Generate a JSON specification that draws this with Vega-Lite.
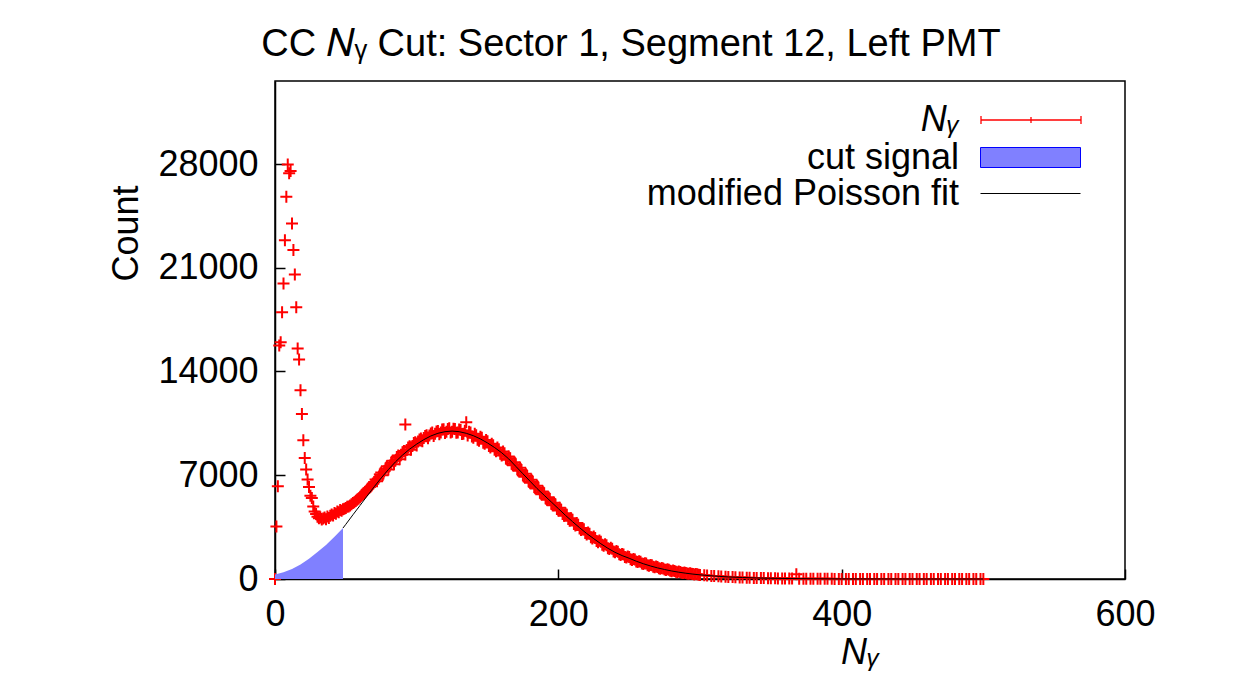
{
  "$schema": "https://vega.github.io/schema/vega-lite/v6.json",
  "width": 850,
  "height": 498,
  "autosize": {"type": "none"},
  "padding": {"left": 275, "top": 81, "right": 133, "bottom": 110},
  "background": "white",
  "title": {"text": "CC 𝑁ᵧ Cut: Sector 1, Segment 12, Left PMT", "frame": "group", "anchor": "middle", "dx": -69, "dy": 37, "offset": 24, "baseline": "alphabetic", "fontSize": 38, "font": "Liberation Sans", "fontWeight": "normal", "color": "#000000"},
  "config": {
    "view": {"stroke": "#000000", "strokeWidth": 1.5},
    "axis": {"labelFont": "Liberation Sans", "labelFontSize": 36, "labelColor": "#000000", "titleFont": "Liberation Sans", "titleFontSize": 36, "titleFontWeight": "normal", "titleColor": "#000000", "domainColor": "#000000", "domainWidth": 1.5, "tickColor": "#000000", "tickSize": -10, "tickWidth": 1.5, "grid": false, "labelFlush": false, "labelOverlap": false},
    "legend": {"labelFont": "Liberation Sans", "labelFontSize": 36, "labelColor": "#000000", "labelLimit": 700, "padding": 0, "orient": "none", "symbolSize": 2500, "symbolOffset": 25, "labelAlign": "right", "labelOffset": -97, "symbolOpacity": 1}
  },
  "datasets": {
    "pts": [
      {"x":0,"n":0},{"x":1,"n":3550},{"x":2,"n":6250},{"x":3,"n":15750},{"x":4,"n":15980},{"x":5,"n":18000},{"x":6,"n":19940},{"x":7,"n":22860},{"x":8,"n":25790},{"x":9,"n":27970},
      {"x":10,"n":27370},{"x":11,"n":27520},{"x":12,"n":23990},{"x":13,"n":22190},{"x":14,"n":20550},{"x":15,"n":18340},{"x":16,"n":15550},{"x":17,"n":14810},{"x":18,"n":12730},{"x":19,"n":11140},
      {"x":20,"n":9360},{"x":21,"n":8170},{"x":22,"n":7380},{"x":23,"n":6710},{"x":24,"n":6210},{"x":25,"n":5620},{"x":26,"n":5470},{"x":27,"n":4900},{"x":28,"n":4560},{"x":29,"n":4380},
      {"x":30,"n":4200},{"x":31,"n":4100},{"x":32,"n":4150},{"x":33,"n":4010},{"x":34,"n":4080},{"x":35,"n":4150},{"x":36,"n":4030},{"x":37,"n":4220},{"x":38,"n":4120},{"x":39,"n":4260},
      {"x":40,"n":4350},{"x":41,"n":4290},{"x":42,"n":4460},{"x":43,"n":4400},{"x":44,"n":4560},{"x":45,"n":4510},{"x":46,"n":4660},{"x":47,"n":4600},{"x":48,"n":4710},{"x":49,"n":4740},
      {"x":50,"n":4790},{"x":52,"n":4900},{"x":54,"n":5050},{"x":56,"n":5180},{"x":58,"n":5350},{"x":60,"n":5520},{"x":62,"n":5720},{"x":64,"n":5900},{"x":66,"n":6130},{"x":68,"n":6300},
      {"x":70,"n":6550},{"x":72,"n":6600},{"x":74,"n":7050},{"x":76,"n":7000},{"x":78,"n":7450},{"x":80,"n":7380},{"x":82,"n":7850},{"x":84,"n":7750},{"x":86,"n":8230},{"x":88,"n":8080},
      {"x":90,"n":8550},{"x":92,"n":8400},{"x":92,"n":10420},{"x":94,"n":8880},{"x":96,"n":8720},{"x":98,"n":9170},{"x":100,"n":9000},{"x":102,"n":9420},{"x":104,"n":9300},{"x":106,"n":9650},{"x":108,"n":9500},
      {"x":110,"n":9820},{"x":112,"n":9640},{"x":114,"n":9950},{"x":116,"n":9760},{"x":118,"n":10080},{"x":120,"n":9850},{"x":122,"n":10120},{"x":124,"n":9880},{"x":126,"n":10140},{"x":128,"n":9860},
      {"x":130,"n":10090},{"x":132,"n":9780},{"x":134,"n":10000},{"x":135,"n":10570},{"x":136,"n":9680},{"x":138,"n":9880},{"x":140,"n":9530},{"x":142,"n":9700},{"x":144,"n":9320},{"x":146,"n":9530},{"x":148,"n":9120},
      {"x":150,"n":9300},{"x":152,"n":8880},{"x":154,"n":9030},{"x":156,"n":8620},{"x":158,"n":8760},{"x":160,"n":8340},{"x":162,"n":8480},{"x":164,"n":8040},{"x":166,"n":8150},{"x":168,"n":7680},
      {"x":170,"n":7750},{"x":172,"n":7300},{"x":174,"n":7350},{"x":176,"n":6900},{"x":178,"n":6950},{"x":180,"n":6500},{"x":182,"n":6560},{"x":184,"n":6110},{"x":186,"n":6160},{"x":188,"n":5720},
      {"x":190,"n":5780},{"x":192,"n":5340},{"x":194,"n":5400},{"x":196,"n":4980},{"x":198,"n":5030},{"x":200,"n":4620},{"x":202,"n":4680},{"x":204,"n":4270},{"x":206,"n":4330},{"x":208,"n":3930},
      {"x":210,"n":3990},{"x":212,"n":3610},{"x":214,"n":3660},{"x":216,"n":3300},{"x":218,"n":3350},{"x":220,"n":3010},{"x":222,"n":3050},{"x":224,"n":2740},{"x":226,"n":2770},{"x":228,"n":2480},
      {"x":230,"n":2510},{"x":232,"n":2240},{"x":234,"n":2270},{"x":236,"n":2020},{"x":238,"n":2040},{"x":240,"n":1810},{"x":242,"n":1840},{"x":244,"n":1620},{"x":246,"n":1650},{"x":248,"n":1450},
      {"x":250,"n":1480},{"x":252,"n":1290},{"x":254,"n":1320},{"x":256,"n":1150},{"x":258,"n":1170},{"x":260,"n":1020},{"x":262,"n":1040},{"x":264,"n":900},{"x":266,"n":920},{"x":268,"n":790},
      {"x":270,"n":810},{"x":272,"n":700},{"x":274,"n":710},{"x":276,"n":610},{"x":278,"n":620},{"x":280,"n":530},{"x":282,"n":540},{"x":284,"n":460},{"x":286,"n":470},{"x":288,"n":400},
      {"x":290,"n":410},{"x":292,"n":350},{"x":294,"n":360},{"x":296,"n":310},{"x":298,"n":320},{"x":300,"n":270},{"x":305,"n":240},{"x":310,"n":200},{"x":315,"n":175},{"x":320,"n":140},
      {"x":325,"n":120},{"x":330,"n":100},{"x":335,"n":85},{"x":340,"n":70},{"x":345,"n":60},{"x":350,"n":50},{"x":355,"n":42},{"x":360,"n":35},{"x":365,"n":28},{"x":368,"n":320},
      {"x":370,"n":22},{"x":375,"n":18},{"x":380,"n":15},{"x":385,"n":12},{"x":390,"n":10},{"x":395,"n":8},{"x":400,"n":7},{"x":405,"n":5},{"x":410,"n":4},{"x":415,"n":3},
      {"x":420,"n":3},{"x":425,"n":2},{"x":430,"n":2},{"x":435,"n":1},{"x":440,"n":1},{"x":445,"n":1},{"x":450,"n":1},{"x":455,"n":0},{"x":460,"n":0},{"x":465,"n":0},
      {"x":470,"n":0},{"x":475,"n":0},{"x":480,"n":0},{"x":485,"n":0},{"x":490,"n":0},{"x":495,"n":0},{"x":500,"n":0},
      {"x":51,"n":4870},{"x":53,"n":4960},{"x":55,"n":5130},{"x":57,"n":5260},{"x":59,"n":5420},{"x":61,"n":5640},{"x":63,"n":5800},{"x":65,"n":6020},{"x":67,"n":6200},{"x":69,"n":6430},
      {"x":71,"n":6720},{"x":73,"n":6780},{"x":75,"n":7180},{"x":77,"n":7250},{"x":79,"n":7600},{"x":81,"n":7640},{"x":83,"n":7980},{"x":85,"n":8000},{"x":87,"n":8330},{"x":89,"n":8390},
      {"x":91,"n":8640},{"x":93,"n":8700},{"x":95,"n":8950},{"x":97,"n":8980},{"x":99,"n":9230},{"x":101,"n":9270},{"x":103,"n":9480},{"x":105,"n":9520},{"x":107,"n":9700},{"x":109,"n":9690},
      {"x":111,"n":9880},{"x":113,"n":9800},{"x":115,"n":9990},{"x":117,"n":9880},{"x":119,"n":10110},{"x":121,"n":9940},{"x":123,"n":10170},{"x":125,"n":9930},{"x":127,"n":10120},{"x":129,"n":9880},
      {"x":131,"n":10060},{"x":133,"n":9800},{"x":137,"n":9930},{"x":139,"n":9620},{"x":141,"n":9800},{"x":143,"n":9400},{"x":145,"n":9600},{"x":147,"n":9200},{"x":149,"n":9380},{"x":151,"n":8980},
      {"x":153,"n":9120},{"x":155,"n":8720},{"x":157,"n":8880},{"x":159,"n":8450},{"x":161,"n":8600},{"x":163,"n":8130},{"x":165,"n":8260},{"x":167,"n":7780},{"x":169,"n":7880},{"x":171,"n":7400},
      {"x":173,"n":7500},{"x":175,"n":7000},{"x":177,"n":7100},{"x":179,"n":6600},{"x":181,"n":6700},{"x":183,"n":6200},{"x":185,"n":6300},{"x":187,"n":5820},{"x":189,"n":5900},{"x":191,"n":5450},
      {"x":193,"n":5520},{"x":195,"n":5080},{"x":197,"n":5150},{"x":199,"n":4720},{"x":201,"n":4800},{"x":203,"n":4380},{"x":205,"n":4440},{"x":207,"n":4040},{"x":209,"n":4100},{"x":211,"n":3710},
      {"x":213,"n":3770},{"x":215,"n":3400},{"x":217,"n":3440},{"x":219,"n":3100},{"x":221,"n":3140},{"x":223,"n":2820},{"x":225,"n":2860},{"x":227,"n":2560},{"x":229,"n":2590},{"x":231,"n":2310},
      {"x":233,"n":2340},{"x":235,"n":2080},{"x":237,"n":2110},{"x":239,"n":1860},{"x":241,"n":1890},{"x":243,"n":1670},{"x":245,"n":1690},{"x":247,"n":1490},{"x":249,"n":1510},{"x":251,"n":1330},
      {"x":253,"n":1350},{"x":255,"n":1180},{"x":257,"n":1200},{"x":259,"n":1050},{"x":261,"n":1070},{"x":263,"n":930},{"x":265,"n":950},{"x":267,"n":820},{"x":269,"n":840},{"x":271,"n":720},
      {"x":273,"n":740},{"x":275,"n":640},{"x":277,"n":650},{"x":279,"n":560},{"x":281,"n":570},{"x":283,"n":490},{"x":285,"n":500},{"x":287,"n":430},{"x":289,"n":440},{"x":291,"n":370},
      {"x":293,"n":380},{"x":295,"n":330},{"x":297,"n":340},{"x":299,"n":290},
      {"x":303,"n":250},{"x":308,"n":210},{"x":313,"n":185},{"x":318,"n":150},{"x":323,"n":128},{"x":328,"n":108},{"x":333,"n":90},{"x":338,"n":75},{"x":343,"n":64},{"x":348,"n":54},
      {"x":353,"n":45},{"x":358,"n":38},{"x":363,"n":30},{"x":373,"n":20},{"x":378,"n":16},{"x":383,"n":13},{"x":388,"n":11},{"x":393,"n":9},{"x":398,"n":7},{"x":403,"n":6},
      {"x":408,"n":4},{"x":413,"n":4},{"x":418,"n":3},{"x":423,"n":2},{"x":428,"n":2},{"x":433,"n":1},{"x":438,"n":1},{"x":443,"n":1},{"x":448,"n":1},{"x":453,"n":0},
      {"x":458,"n":0},{"x":463,"n":0},{"x":468,"n":0},{"x":473,"n":0},{"x":478,"n":0},{"x":483,"n":0},{"x":488,"n":0},{"x":493,"n":0},{"x":498,"n":0}
    ],
    "cut": [
      {"x":0,"n":300},{"x":6,"n":450},{"x":12,"n":680},{"x":18,"n":980},{"x":24,"n":1370},{"x":30,"n":1820},{"x":36,"n":2300},{"x":42,"n":2850},{"x":48,"n":3440}
    ],
    "fit": [
      {"x":48,"n":3440},{"x":50,"n":3690},{"x":55,"n":4330},{"x":60,"n":4960},{"x":65,"n":5600},{"x":70,"n":6220},{"x":75,"n":6820},{"x":80,"n":7380},{"x":85,"n":7900},{"x":90,"n":8360},
      {"x":95,"n":8760},{"x":100,"n":9100},{"x":105,"n":9400},{"x":110,"n":9650},{"x":115,"n":9830},{"x":120,"n":9940},{"x":125,"n":9980},{"x":130,"n":9940},{"x":135,"n":9830},{"x":140,"n":9670},
      {"x":145,"n":9450},{"x":150,"n":9180},{"x":155,"n":8870},{"x":160,"n":8520},{"x":165,"n":8100},{"x":170,"n":7600},{"x":175,"n":7100},{"x":180,"n":6600},{"x":185,"n":6100},{"x":190,"n":5650},
      {"x":195,"n":5200},{"x":200,"n":4750},{"x":205,"n":4300},{"x":210,"n":3870},{"x":215,"n":3460},{"x":220,"n":3070},{"x":225,"n":2720},{"x":230,"n":2380},{"x":235,"n":2070},{"x":240,"n":1800},
      {"x":245,"n":1580},{"x":250,"n":1400},{"x":255,"n":1200},{"x":260,"n":1030},{"x":265,"n":880},{"x":270,"n":750},{"x":275,"n":640},{"x":280,"n":540},{"x":285,"n":460},{"x":290,"n":390},
      {"x":295,"n":330},{"x":300,"n":280},{"x":310,"n":200},{"x":320,"n":140},{"x":330,"n":100},{"x":340,"n":70},{"x":350,"n":50},{"x":360,"n":35},{"x":380,"n":15},{"x":400,"n":7},{"x":450,"n":1},{"x":500,"n":0}
    ]
  },
  "encoding": {
    "x": {"field": "x", "type": "quantitative", "scale": {"domain": [0, 600], "nice": false, "zero": false},
      "axis": {"values": [0, 200, 400, 600], "format": "d", "title": "Nᵧ", "titleFontStyle": "italic", "titleX": 585, "titleY": 84, "titleAlign": "center", "titleBaseline": "alphabetic", "labelPadding": 28}},
    "y": {"field": "n", "type": "quantitative", "scale": {"domain": [0, 33600], "nice": false},
      "axis": {"values": [0, 7000, 14000, 21000, 28000], "format": "d", "title": "Count", "titleX": -138, "titleY": 152, "titleAngle": -90, "titleAlign": "center", "titleBaseline": "alphabetic", "labelPadding": 27}}
  },
  "layer": [
    {
      "data": {"name": "pts"},
      "mark": {"type": "point", "shape": "M-1,0H1M0,-1V1", "size": 144, "strokeWidth": 2, "filled": false, "opacity": 1},
      "encoding": {
        "color": {"datum": "Nᵧ", "scale": {"range": ["#ff0000"]},
          "legend": {"title": null, "orient": "none", "legendX": 705, "legendY": 13, "labelFontStyle": "italic",
            "symbolType": "M-2,0H2M-2,-0.16V0.16M2,-0.16V0.16M0,-0.12V0.12", "symbolStrokeColor": "#ff0000", "symbolFillColor": "transparent", "symbolStrokeWidth": 1.3}}
      }
    },
    {
      "data": {"name": "cut"},
      "mark": {"type": "area", "opacity": 1},
      "encoding": {
        "fill": {"datum": "cut signal", "scale": {"range": ["#8080ff"]},
          "legend": {"title": null, "orient": "none", "legendX": 705, "legendY": 51,
            "symbolType": "M-2,-0.4H2V0.4H-2Z", "symbolStrokeColor": "#0000ff", "symbolFillColor": "#8080ff", "symbolStrokeWidth": 1}}
      }
    },
    {
      "data": {"name": "fit"},
      "mark": {"type": "line", "strokeWidth": 1},
      "encoding": {
        "stroke": {"datum": "modified Poisson fit", "scale": {"range": ["#000000"]},
          "legend": {"title": null, "orient": "none", "legendX": 705, "legendY": 87,
            "symbolType": "M-2,0H2", "symbolStrokeColor": "#000000", "symbolStrokeWidth": 1}}
      }
    }
  ]
}
